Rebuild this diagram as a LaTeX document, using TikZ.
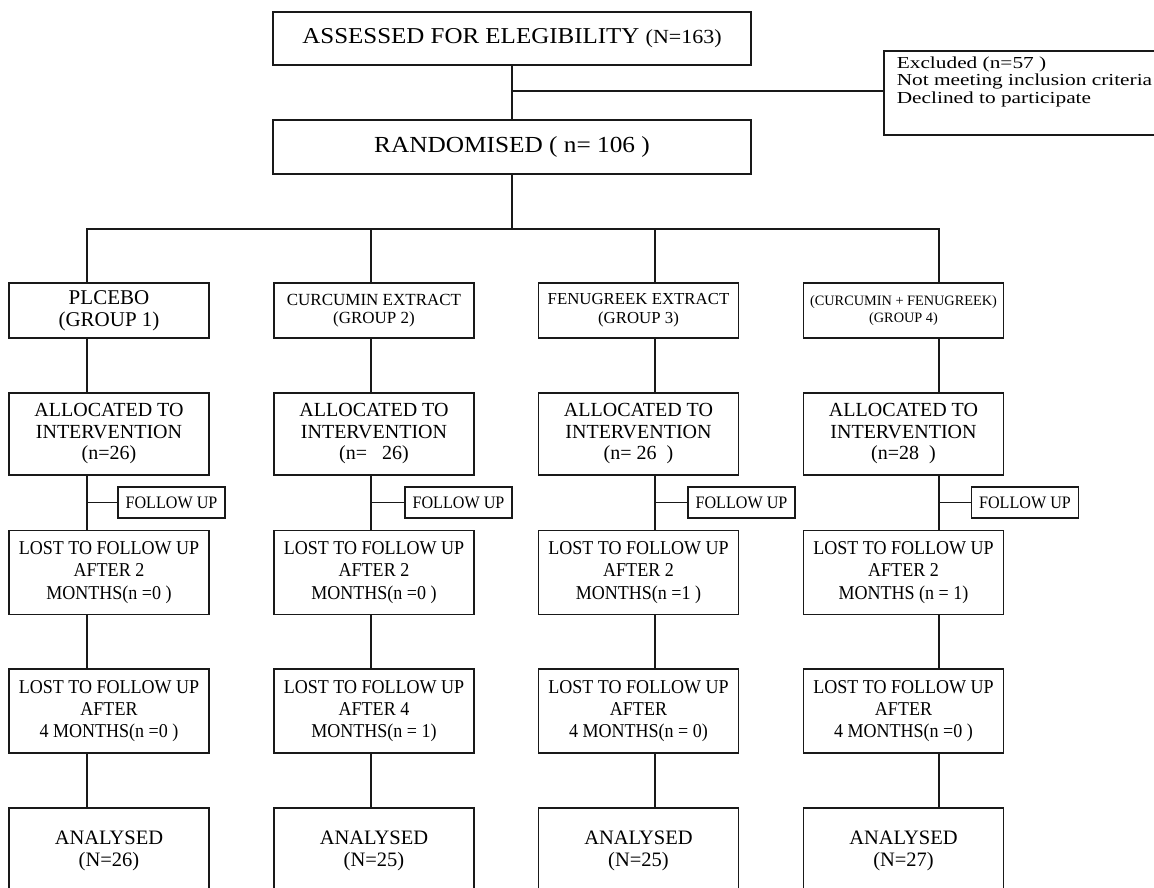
\documentclass[tikz,border=0pt]{standalone}
\usepackage{fontspec}
\setmainfont{Liberation Serif}
\newfontfamily\wideF[FakeStretch=1.1]{Liberation Serif}
\newfontfamily\exclF[FakeStretch=1.27]{Liberation Serif}
\newfontfamily\condF[FakeStretch=0.92]{Liberation Serif}
\begin{document}
\begin{tikzpicture}[x=1pt,y=-1pt,
  box/.style={draw=black!90, line width=1.6pt, inner sep=0pt, align=center},
  grp/.style={box, minimum width=200pt, minimum height=55pt},
  alloc/.style={box, minimum width=200pt, minimum height=82pt, font={\fontsize{20}{21.5}\selectfont}},
  fup/.style={box, minimum width=107pt, minimum height=31pt, font={\condF\fontsize{17.5}{19}\selectfont}},
  lost/.style={box, minimum width=200pt, minimum height=84pt, font={\condF\fontsize{19.6}{22.3}\selectfont}},
  anal/.style={box, minimum width=200pt, minimum height=100pt, text depth=18pt, font={\fontsize{20.5}{22}\selectfont}},
  conn/.style={draw=black!90, line width=1.6pt}]
\clip (0,0) rectangle (1154,888);
\fill[white] (0,0) rectangle (1154,888);

% top part
\node[box, minimum width=478pt, minimum height=53pt] (top) at (512,38.5)
  {\wideF\fontsize{22.7}{25}\selectfont ASSESSED FOR ELEGIBILITY {\fontsize{20}{25}\selectfont (N=163)}};
\node[box, minimum width=478pt, minimum height=54pt] (rand) at (512,147)
  {\wideF\fontsize{23}{25}\selectfont RANDOMISED ( n= 106 )};
\node[box, anchor=west, minimum height=84pt, align=left,
  inner xsep=13pt, text depth=26pt, font={\exclF\fontsize{16.8}{17.2}\selectfont}] (excl) at (883,93)
  {Excluded (n=57 )\\Not meeting inclusion criteria\\Declined to participate};

% groups
\node[grp, font={\fontsize{21}{22}\selectfont}] (g1) at (109,310.5) {PLCEBO\\(GROUP 1)};
\node[grp, font={\fontsize{17}{18.5}\selectfont}] (g2) at (374,310.5) {CURCUMIN EXTRACT\\(GROUP 2)};
\node[grp, font={\fontsize{16.8}{19}\selectfont}] (g3) at (638.5,310.5) {FENUGREEK EXTRACT\\(GROUP 3)};
\node[grp, font={\fontsize{14.3}{17}\selectfont}] (g4) at (903.5,310.5) {(CURCUMIN + FENUGREEK)\\(GROUP 4)};

% allocation
\node[alloc] (a1) at (109,434) {ALLOCATED TO\\INTERVENTION\\(n=26)};
\node[alloc] (a2) at (374,434) {ALLOCATED TO\\INTERVENTION\\(n=\ \ \ 26)};
\node[alloc] (a3) at (638.5,434) {ALLOCATED TO\\INTERVENTION\\(n= 26\ \ )};
\node[alloc] (a4) at (903.5,434) {ALLOCATED TO\\INTERVENTION\\(n=28\ \ )};

% follow up
\node[fup] (f1) at (171.5,502.5) {FOLLOW UP};
\node[fup] (f2) at (458.5,502.5) {FOLLOW UP};
\node[fup] (f3) at (741.5,502.5) {FOLLOW UP};
\node[fup] (f4) at (1025,502.5) {FOLLOW UP};

% lost after 2 months
\node[lost] (l1) at (109,572.5) {LOST TO FOLLOW UP\\AFTER 2\\MONTHS(n =0 )};
\node[lost] (l2) at (374,572.5) {LOST TO FOLLOW UP\\AFTER 2\\MONTHS(n =0 )};
\node[lost] (l3) at (638.5,572.5) {LOST TO FOLLOW UP\\AFTER 2\\MONTHS(n =1 )};
\node[lost] (l4) at (903.5,572.5) {LOST TO FOLLOW UP\\AFTER 2\\MONTHS (n = 1)};

% lost after 4 months
\node[lost] (m1) at (109,711) {LOST TO FOLLOW UP\\AFTER\\4 MONTHS(n =0 )};
\node[lost] (m2) at (374,711) {LOST TO FOLLOW UP\\AFTER 4\\MONTHS(n = 1)};
\node[lost] (m3) at (638.5,711) {LOST TO FOLLOW UP\\AFTER\\4 MONTHS(n = 0)};
\node[lost] (m4) at (903.5,711) {LOST TO FOLLOW UP\\AFTER\\4 MONTHS(n =0 )};

% analysed
\node[anal] (n1) at (109,858) {ANALYSED\\(N=26)};
\node[anal] (n2) at (374,858) {ANALYSED\\(N=25)};
\node[anal] (n3) at (638.5,858) {ANALYSED\\(N=25)};
\node[anal] (n4) at (903.5,858) {ANALYSED\\(N=27)};

% connectors
\coordinate (b) at (512,91);
\coordinate (hub) at (512,229);
\coordinate (h1) at (87,229);
\coordinate (h2) at (371,229);
\coordinate (h3) at (655,229);
\coordinate (h4) at (939,229);
\draw[conn] (top) -- (rand);
\draw[conn] (b) -- (b -| excl.west);
\draw[conn] (rand) -- (hub);
\draw[conn, line cap=rect] (h1) -- (h4);
\foreach \i in {1,2,3,4}{
  \draw[conn] (h\i) -- (h\i |- g\i.north);
  \draw[conn] (h\i |- g\i.south) -- (h\i |- a\i.north);
  \draw[conn] (h\i |- a\i.south) -- (h\i |- l\i.north);
  \draw[conn] (h\i |- f\i.west) -- (f\i.west);
  \draw[conn] (h\i |- l\i.south) -- (h\i |- m\i.north);
  \draw[conn] (h\i |- m\i.south) -- (h\i |- n\i.north);
}
\end{tikzpicture}
\end{document}
